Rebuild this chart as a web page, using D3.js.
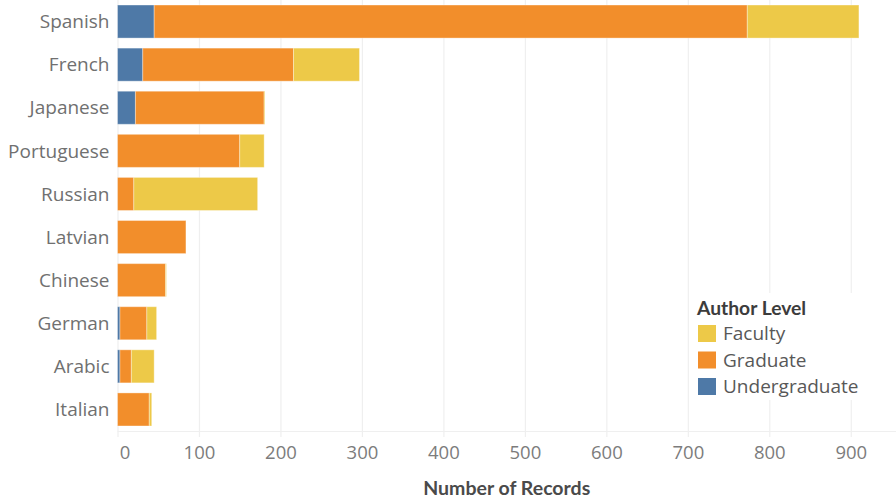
<!DOCTYPE html>
<html>
<head>
<meta charset="utf-8">
<script src="https://cdn.jsdelivr.net/npm/d3@7"></script>
<style>
  body { margin: 0; background: #fff; }
  svg { display: block; }
  .cat { font-family: "Open Sans", sans-serif; font-size: 19px; fill: #707070; }
  .tick text { font-family: "Open Sans", sans-serif; font-size: 18.5px; fill: #7c7c7c; }
  .axis-title { font-family: Lato, sans-serif; font-weight: bold; font-size: 19.5px; fill: #4a4a4a; }
  .legend-title { font-family: Lato, sans-serif; font-weight: bold; font-size: 19.3px; fill: #3c3c3c; }
  .legend-label { font-family: "Open Sans", sans-serif; font-size: 19px; fill: #585858; }
</style>
</head>
<body>
<svg id="chart"></svg>
<script>
// data
const languages = ["Spanish", "French", "Japanese", "Portuguese", "Russian",
  "Latvian", "Chinese", "German", "Arabic", "Italian"];
const undergraduate = [45, 31, 22, 0, 0, 0, 0, 3, 3, 0];
const graduate = [728, 185, 158, 150, 20, 84, 59, 33, 14, 39];
const faculty = [137, 81, 1, 30, 152, 0, 1, 12, 28, 3];
const xTicks = [0, 100, 200, 300, 400, 500, 600, 700, 800, 900];

const levels = ["Undergraduate", "Graduate", "Faculty"];
const legendOrder = ["Faculty", "Graduate", "Undergraduate"];
const colors = { Faculty: "#edc948", Graduate: "#f28e2b", Undergraduate: "#4e79a7" };

const width = 896, height = 500;
const margin = { top: 0, right: 0, bottom: 69, left: 117.5 };
const innerW = width - margin.left - margin.right;
const innerH = height - margin.top - margin.bottom;

const svg = d3.select("#chart").attr("width", width).attr("height", height);
const g = svg.append("g").attr("transform", `translate(${margin.left},${margin.top})`);

const rows = languages.map((name, i) => ({
  name,
  Undergraduate: undergraduate[i],
  Graduate: graduate[i],
  Faculty: faculty[i]
}));

const x = d3.scaleLinear().domain([0, 955.5]).range([0, innerW]);
const y = d3.scaleBand().domain(languages).range([0, innerH]).paddingInner(0.233).paddingOuter(0.1165);

// gridlines
g.selectAll("line.grid")
  .data(xTicks)
  .enter()
  .append("line")
  .attr("class", "grid")
  .attr("x1", d => x(d) + 0.5)
  .attr("x2", d => x(d) + 0.5)
  .attr("y1", 0)
  .attr("y2", innerH + 6)
  .attr("stroke", "#efefef")
  .attr("stroke-width", 1.2);

// axis line
g.append("line")
  .attr("x1", 0).attr("x2", innerW)
  .attr("y1", innerH + 0.5).attr("y2", innerH + 0.5)
  .attr("stroke", "#efefef")
  .attr("stroke-width", 1.2);

// stacked bars
const series = d3.stack().keys(levels)(rows);
g.selectAll("g.layer")
  .data(series)
  .enter()
  .append("g")
  .attr("class", "layer")
  .attr("fill", d => colors[d.key])
  .selectAll("rect")
  .data(d => d.filter(s => s[1] > s[0]))
  .enter()
  .append("rect")
  .attr("x", d => x(d[0]))
  .attr("y", d => y(d.data.name))
  .attr("width", d => x(d[1]) - x(d[0]))
  .attr("height", y.bandwidth())
  .attr("stroke", "rgba(255,255,255,0.35)")
  .attr("stroke-width", 1);

// category labels
g.selectAll("text.cat")
  .data(languages)
  .enter()
  .append("text")
  .attr("class", "cat")
  .attr("x", -8)
  .attr("y", d => y(d) + y.bandwidth() / 2)
  .attr("dy", "0.35em")
  .attr("text-anchor", "end")
  .text(d => d);

// x axis labels
const xAxis = g.append("g")
  .attr("transform", `translate(0,${innerH})`)
  .call(d3.axisBottom(x).tickValues(xTicks).tickSize(0).tickPadding(15));
xAxis.select(".domain").remove();
xAxis.selectAll(".tick text").attr("dx", d => d === 0 ? 7 : 0);

g.append("text")
  .attr("class", "axis-title")
  .attr("x", innerW / 2)
  .attr("y", innerH + 64)
  .attr("text-anchor", "middle")
  .text("Number of Records");

// legend
const legend = svg.append("g").attr("transform", "translate(690,293)");
legend.append("rect")
  .attr("width", 182).attr("height", 107)
  .attr("fill", "#fff");
legend.append("text")
  .attr("class", "legend-title")
  .attr("x", 7).attr("y", 22)
  .text("Author Level");
const items = legend.selectAll("g.item")
  .data(legendOrder)
  .enter()
  .append("g")
  .attr("class", "item")
  .attr("transform", (d, i) => `translate(8,${32 + i * 26.5})`);
items.append("rect")
  .attr("width", 18).attr("height", 17)
  .attr("fill", d => colors[d]);
items.append("text")
  .attr("class", "legend-label")
  .attr("x", 25).attr("y", 15)
  .text(d => d);
</script>
</body>
</html>
